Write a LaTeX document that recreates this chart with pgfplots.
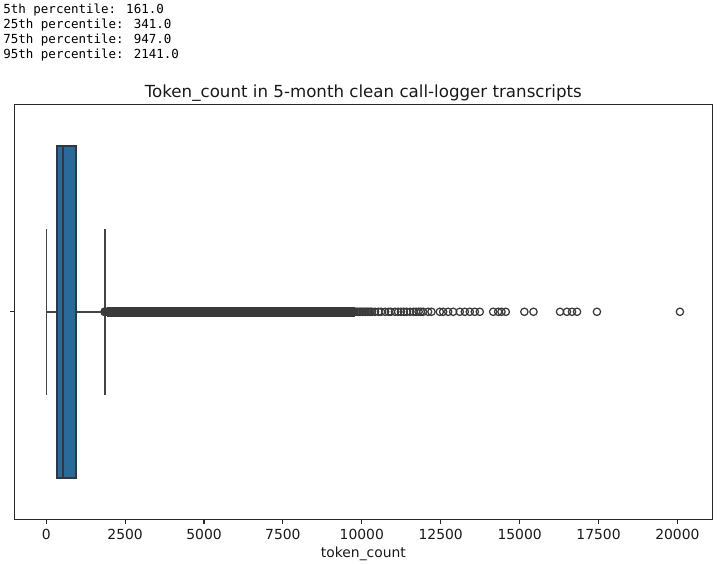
\documentclass[border=0pt]{standalone}
\usepackage{fontspec}
\setmainfont{DejaVu Sans}
\newfontfamily\monofont{DejaVu Sans Mono}
\usepackage{pgfplots}
\usepgfplotslibrary{statistics}
\pgfplotsset{compat=1.18}
\usepackage{pgfplotstable}
\definecolor{boxfill}{RGB}{41,106,153}
\definecolor{boxedge}{RGB}{48,54,66}
\definecolor{whisk}{RGB}{68,68,68}
\definecolor{flier}{RGB}{58,58,58}
\definecolor{spine}{RGB}{40,40,40}

\pgfplotstableread{
x y
1856 1
1950 1
2050 1
2150 1
2250 1
2350 1
2450 1
2550 1
2650 1
2750 1
2850 1
2950 1
3050 1
3150 1
3250 1
3350 1
3450 1
3550 1
3650 1
3750 1
3850 1
3950 1
4050 1
4150 1
4250 1
4350 1
4450 1
4550 1
4650 1
4750 1
4850 1
4950 1
5050 1
5150 1
5250 1
5350 1
5450 1
5550 1
5650 1
5750 1
5850 1
5950 1
6050 1
6150 1
6250 1
6350 1
6450 1
6550 1
6650 1
6750 1
6850 1
6950 1
7050 1
7150 1
7250 1
7350 1
7450 1
7550 1
7650 1
7750 1
7850 1
7950 1
8050 1
8150 1
8250 1
8350 1
8450 1
8550 1
8650 1
8750 1
8850 1
9000 1
9150 1
9300 1
9450 1
9600 1
9750 1
}\densefliers

\pgfplotstableread{
x y
9820 1
9870 1
9920 1
9970 1
10020 1
10070 1
10120 1
10170 1
10220 1
10270 1
10320 1
10420 1
10530 1
10610 1
10740 1
10850 1
10920 1
11050 1
11150 1
11240 1
11330 1
11420 1
11530 1
11640 1
11720 1
11800 1
11870 1
11943 1
12100 1
12207 1
12471 1
12577 1
12735 1
12894 1
13105 1
13264 1
13422 1
13581 1
13739 1
14162 1
14320 1
14426 1
14563 1
15150 1
15440 1
16280 1
16500 1
16660 1
16820 1
17450 1
20080 1
}\sparsefliers

\begin{document}
\begin{tikzpicture}
\useasboundingbox (0,0) rectangle (518.4pt,406.08pt);
\begin{axis}[
  at={(10.44pt,32.18pt)}, anchor=south west,
  scale only axis, width=502.4pt, height=298.8pt,
  xmin=-1005, xmax=21105, ymin=0.5, ymax=1.5,
  axis line style={draw=spine, line width=0.8pt},
  xtick={0,2500,5000,7500,10000,12500,15000,17500,20000},
  ytick={1}, yticklabels={},
  xtick pos=lower, ytick pos=left,
  tick align=outside, major tick length=3.5pt,
  every tick/.style={draw=spine, line width=0.8pt},
  scaled ticks=false,
  /pgf/number format/1000 sep={},
  /pgf/number format/assume math mode=true,
  ticklabel style={font=\fontsize{10}{12}\selectfont, text=black!90},
  xlabel={token\_count},
  xlabel style={font=\fontsize{10}{12}\selectfont, text=black!90, yshift=1.5pt},
  clip=false,
]
% dense band where the outlier circles overlap completely
\addplot[fill=flier, draw=flier, line width=0.4pt] coordinates {(1950,0.9895) (9750,0.9895) (9750,1.0105) (1950,1.0105)} --cycle;
\addplot[only marks, mark=*, mark size=3.1pt,
  mark options={draw=flier, fill=flier, line width=0.4pt}] table[x=x,y=y] {\densefliers};
\addplot[only marks, mark=o, mark size=2.65pt,
  mark options={draw=flier, line width=0.9pt}] table[x=x,y=y] {\sparsefliers};
\addplot[boxplot prepared={
    lower whisker=10, lower quartile=341, median=540,
    upper quartile=947, upper whisker=1856,
    draw position=1, box extend=0.8, whisker extend=0.4,
    every box/.style={draw=boxedge, fill=boxfill, line width=1.1pt},
    every whisker/.style={draw=whisk, line width=1.1pt},
    every median/.style={draw=boxedge, line width=1.1pt}},
  draw=whisk, line width=1.1pt] coordinates {};
\end{axis}
\node[anchor=base, font=\fontsize{12}{14}\selectfont, text=black!90] at (261.6pt,335.9pt)
  {Token\_count in 5-month clean call-logger transcripts};
\begin{scope}[every node/.style={anchor=base west, inner sep=0pt, font=\monofont\fontsize{9}{11}\selectfont}]
\node at (2.2pt,396.4pt) {5th percentile: 161.0};
\node at (2.2pt,385.2pt) {25th percentile: 341.0};
\node at (2.2pt,374.4pt) {75th percentile: 947.0};
\node at (2.2pt,363.6pt) {95th percentile: 2141.0};
\end{scope}
\end{tikzpicture}
\end{document}
